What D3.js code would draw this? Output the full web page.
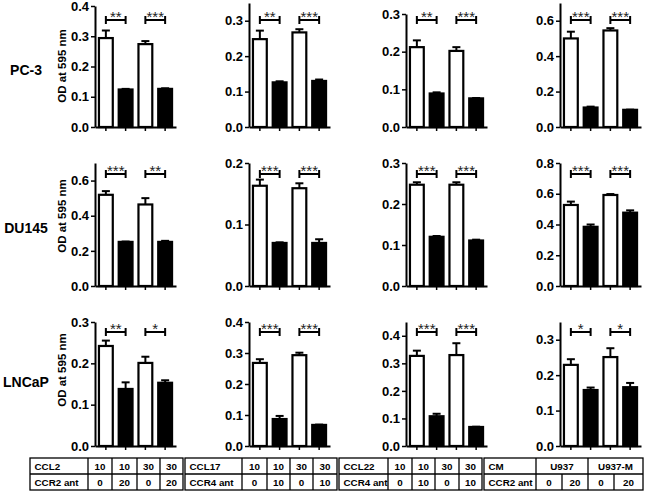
<!DOCTYPE html>
<html><head><meta charset="utf-8">
<script src="https://cdn.jsdelivr.net/npm/d3@7"></script>
<style>body{margin:0;background:#fff}svg{display:block}</style>
</head><body>
<svg id="c" width="650" height="496"></svg>
<script>
// ---------- data ----------
const rowLabels = ["PC-3", "DU145", "LNCaP"];
const barKeys = ["A", "B", "C", "D"];

const pc3Means   = [[0.294,0.124,0.274,0.126],[0.248,0.126,0.267,0.130],[0.212,0.089,0.202,0.076],[0.500,0.110,0.545,0.097]];
const pc3Errors  = [[0.025,0.002,0.010,0.002],[0.024,0.003,0.009,0.004],[0.018,0.003,0.010,0.001],[0.038,0.005,0.013,0.001]];
const du145Means = [[0.519,0.251,0.464,0.251],[0.163,0.070,0.159,0.070],[0.247,0.120,0.247,0.111],[0.527,0.385,0.592,0.477]];
const du145Errors= [[0.021,0.002,0.036,0.006],[0.010,0.001,0.008,0.006],[0.006,0.002,0.006,0.002],[0.022,0.015,0.006,0.015]];
const lncapMeans = [[0.242,0.138,0.201,0.153],[0.268,0.087,0.293,0.068],[0.327,0.108,0.330,0.069],[0.229,0.158,0.251,0.166]];
const lncapErrors= [[0.013,0.016,0.015,0.006],[0.012,0.010,0.008,0.001],[0.019,0.009,0.043,0.001],[0.016,0.007,0.025,0.012]];

const pc3Sig   = [["**","***"],["**","***"],["**","***"],["***","***"]];
const du145Sig = [["***","**"],["***","***"],["***","***"],["***","***"]];
const lncapSig = [["**","*"],["***","***"],["***","***"],["*","*"]];

const pc3YMax   = [0.4, 0.35, 0.3, 0.7];
const du145YMax = [0.7, 0.2, 0.3, 0.8];
const lncapYMax = [0.3, 0.4, 0.45, 0.35];

const pc3Ticks   = [[0,0.1,0.2,0.3,0.4],[0,0.1,0.2,0.3],[0,0.1,0.2,0.3],[0,0.2,0.4,0.6]];
const du145Ticks = [[0,0.2,0.4,0.6],[0,0.1,0.2],[0,0.1,0.2,0.3],[0,0.2,0.4,0.6,0.8]];
const lncapTicks = [[0,0.1,0.2,0.3],[0,0.1,0.2,0.3,0.4],[0,0.1,0.2,0.3,0.4],[0,0.1,0.2,0.3]];

const yTitle = "OD at 595 nm";

const tableRow1Labels = ["CCL2", "CCL17", "CCL22", "CM"];
const tableRow2Labels = ["CCR2 ant", "CCR4 ant", "CCR4 ant", "CCR2 ant"];
const tableRow1Values = [["10","10","30","30"],["10","10","30","30"],["10","10","30","30"],["U937","U937-M"]];
const tableRow2Values = [["0","20","0","20"],["0","10","0","10"],["0","10","0","10"],["0","20","0","20"]];

// ---------- layout ----------
const rowsMeans = [pc3Means, du145Means, lncapMeans];
const rowsErrors = [pc3Errors, du145Errors, lncapErrors];
const rowsSig = [pc3Sig, du145Sig, lncapSig];
const rowsYMax = [pc3YMax, du145YMax, lncapYMax];
const rowsTicks = [pc3Ticks, du145Ticks, lncapTicks];

const colX = [95, 249, 406, 560];
const panelTop = [[6, 3, 14, 3], [163, 163, 163, 163], [322, 322, 322, 322]];
const rowBase = [127, 286, 446];
const bracketY = [20, 174, 332];
const labelBase = [75, 233, 387];
const titleMid = [66, 216, 370];
const xLen = 81;
const FONT = "Arial, 'Liberation Sans', Helvetica, sans-serif";

const svg = d3.select("#c");
const fmt = d3.format(".1f");

rowLabels.forEach((lab, r) => {
  svg.append("text").attr("x", 26).attr("y", labelBase[r])
    .attr("text-anchor", "middle").attr("font-family", FONT)
    .attr("font-weight", "bold").attr("font-size", 14).text(lab);
  svg.append("text").attr("transform", `translate(66,${titleMid[r]}) rotate(-90)`)
    .attr("text-anchor", "middle").attr("font-family", FONT)
    .attr("font-weight", "bold").attr("font-size", 11.5).text(yTitle);

  for (let c = 0; c < 4; c++) {
    const g = svg.append("g").attr("transform", `translate(${colX[c]},0)`);
    const y = d3.scaleLinear().domain([0, rowsYMax[r][c]]).range([rowBase[r], panelTop[r][c]]);
    const x = d3.scaleBand().domain(barKeys).range([0, xLen]).paddingInner(0.3).paddingOuter(0.2);
    const means = rowsMeans[r][c], errs = rowsErrors[r][c];

    barKeys.forEach((k, i) => {
      const m = means[i], e = errs[i];
      const cx = x(k) + x.bandwidth() / 2;
      g.append("line").attr("x1", cx).attr("x2", cx).attr("y1", y(m)).attr("y2", y(m + e))
        .attr("stroke", "#000").attr("stroke-width", 2);
      g.append("line").attr("x1", cx - 4).attr("x2", cx + 4).attr("y1", y(m + e)).attr("y2", y(m + e))
        .attr("stroke", "#000").attr("stroke-width", 2);
      g.append("rect").attr("x", x(k)).attr("width", x.bandwidth())
        .attr("y", y(m)).attr("height", y(0) - y(m))
        .attr("fill", i % 2 === 0 ? "#fff" : "#000")
        .attr("stroke", "#000").attr("stroke-width", 2.2);
    });

    const ya = g.append("g").call(d3.axisLeft(y).tickValues(rowsTicks[r][c]).tickFormat(fmt)
      .tickSize(4).tickSizeOuter(0).tickPadding(2));
    ya.select(".domain").attr("stroke-width", 2);
    ya.selectAll(".tick line").attr("stroke-width", 1.5);
    ya.selectAll("text").attr("font-family", FONT).attr("font-weight", "bold").attr("font-size", 13);

    const xa = g.append("g").attr("transform", `translate(0,${rowBase[r]})`)
      .call(d3.axisBottom(x).tickSize(4).tickSizeOuter(0).tickFormat(""));
    xa.select(".domain").attr("stroke-width", 2);
    xa.selectAll(".tick line").attr("stroke-width", 1.5);

    rowsSig[r][c].forEach((s, j) => {
      const x1 = x(barKeys[2 * j]) + x.bandwidth() / 2;
      const x2 = x(barKeys[2 * j + 1]) + x.bandwidth() / 2;
      const by = bracketY[r];
      g.append("line").attr("x1", x1).attr("x2", x2).attr("y1", by).attr("y2", by)
        .attr("stroke", "#000").attr("stroke-width", 2);
      [x1, x2].forEach(xx => g.append("line").attr("x1", xx).attr("x2", xx)
        .attr("y1", by - 4).attr("y2", by + 4).attr("stroke", "#000").attr("stroke-width", 2));
      g.append("text").attr("x", (x1 + x2) / 2).attr("y", by + 2).attr("text-anchor", "middle")
        .attr("font-family", FONT).attr("font-size", 15).attr("fill", "#222").text(s);
    });
  }
});

// ---------- tables ----------
const tabCols = [
  [30, 88, 112, 137, 160, 183],
  [185, 242, 267, 290, 313, 337],
  [339, 388, 412, 435, 459, 482],
  [484, 536, 562, 588, 614, 643]
];
const tTop = 458, tMid = 474, tBot = 490;
tabCols.forEach((cols, t) => {
  const g = svg.append("g");
  const L = cols[0], R = cols[cols.length - 1];
  const st = s => s.attr("stroke", "#000").attr("stroke-width", 1.3).attr("fill", "none");
  st(g.append("rect").attr("x", L).attr("y", tTop).attr("width", R - L).attr("height", tBot - tTop));
  st(g.append("line").attr("x1", L).attr("x2", R).attr("y1", tMid).attr("y2", tMid));
  const txt = (xx, yy, s, anchor) => g.append("text").attr("x", xx).attr("y", yy)
    .attr("text-anchor", anchor).attr("font-family", FONT).attr("font-weight", "bold")
    .attr("font-size", 9.8).text(s);
  txt(L + 4.5, (tTop + tMid) / 2 + 3.5, tableRow1Labels[t], "start");
  txt(L + 4.5, (tMid + tBot) / 2 + 3.5, tableRow2Labels[t], "start");
  for (let i = 1; i < cols.length - 1; i++) {
    const top = (tableRow1Values[t].length === 2 && i % 2 === 0) ? tMid : tTop;
    st(g.append("line").attr("x1", cols[i]).attr("x2", cols[i]).attr("y1", top).attr("y2", tBot));
  }
  const v1 = tableRow1Values[t];
  const span = 4 / v1.length;
  v1.forEach((v, i) => {
    const a = cols[1 + i * span], b = cols[1 + (i + 1) * span];
    txt((a + b) / 2, (tTop + tMid) / 2 + 3.5, v, "middle");
  });
  tableRow2Values[t].forEach((v, i) => {
    txt((cols[1 + i] + cols[2 + i]) / 2, (tMid + tBot) / 2 + 3.5, v, "middle");
  });
});
</script>
</body></html>
